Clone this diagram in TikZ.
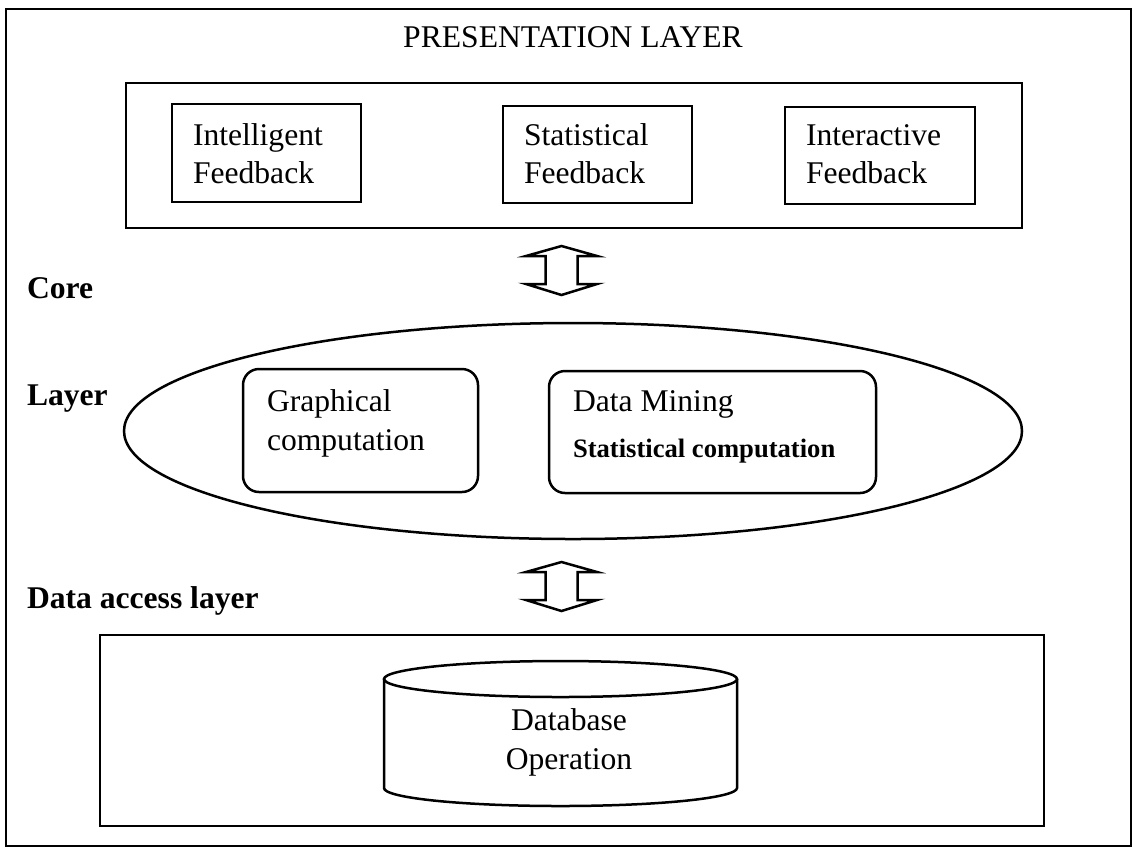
\documentclass[tikz,border=0pt]{standalone}
\usepackage{fontspec}
\setmainfont{Liberation Serif}
\usetikzlibrary{shapes.geometric}
\begin{document}
\begin{tikzpicture}[x=0.5pt,y=-0.5pt,
  every node/.style={inner sep=0pt, outer sep=0pt},
  boxline/.style={draw, line width=1.25pt},
  plainbox/.style={boxline, rectangle},
  roundbox/.style={boxline, rectangle, rounded corners=8pt},
  label/.style={font=\fontsize{15.8}{19}\selectfont},
  heading/.style={font=\fontsize{15.8}{19}\selectfont\bfseries},
  smallbold/.style={font=\fontsize{13.3}{16}\selectfont\bfseries},
  updown/.pic={
    \draw[line width=1.25pt, line join=miter]
      (0,-24.5) -- (35.5,-14.5) -- (16,-14.5) -- (16,13.5) -- (35.5,13.5)
      -- (0,24.5) -- (-35.5,13.5) -- (-16,13.5) -- (-16,-14.5)
      -- (-35.5,-14.5) -- cycle;
  }]
\useasboundingbox (0,0) rectangle (1133,848);

% outer frame
\node[plainbox, minimum width=562.5pt, minimum height=418.5pt] (outer) at (568.5,427.5) {};

% presentation layer
\node[label, anchor=base] (title) at (573,47) {PRESENTATION LAYER};
\node[plainbox, minimum width=448pt, minimum height=72.5pt] (pres) at (574,155.5) {};
\node[plainbox, minimum width=94.5pt, minimum height=49pt] (intel) at (266.5,153) {};
\node[plainbox, minimum width=94.5pt, minimum height=48.5pt] (stat) at (597.5,154.5) {};
\node[plainbox, minimum width=95pt, minimum height=48.5pt] (inter) at (880,155.5) {};
\node[label, anchor=base west] (intelA) at (193,145) {Intelligent};
\node[label, anchor=base west] (intelB) at (193,183) {Feedback};
\node[label, anchor=base west] (statA) at (524,145) {Statistical};
\node[label, anchor=base west] (statB) at (524,183) {Feedback};
\node[label, anchor=base west] (interA) at (806,145) {Interactive};
\node[label, anchor=base west] (interB) at (806,183) {Feedback};

% arrow between presentation and core layer
\coordinate (arrA) at (561.5,270.5);
\pic at (arrA) {updown};

% core layer
\node[heading, anchor=base west] (coreA) at (27,298) {Core};
\node[heading, anchor=base west] (coreB) at (27,405) {Layer};
\node[boxline, ellipse, minimum width=449pt, minimum height=108pt] (core) at (573,431) {};
\node[roundbox, minimum width=117.5pt, minimum height=61.5pt] (graph) at (360.5,430.5) {};
\node[roundbox, minimum width=163.5pt, minimum height=61pt] (mining) at (712.5,432) {};
\node[label, anchor=base west] (graphA) at (267,411) {Graphical};
\node[label, anchor=base west] (graphB) at (267,450) {computation};
\node[label, anchor=base west] (miningA) at (573,411) {Data Mining};
\node[smallbold, anchor=base west] (miningB) at (573,457) {Statistical computation};

% arrow between core and data access layer
\coordinate (arrB) at (561.5,586.5);
\pic at (arrB) {updown};

% data access layer
\node[heading, anchor=base west] (dal) at (27,608) {Data access layer};
\node[plainbox, minimum width=472pt, minimum height=95.5pt] (data) at (572,730.5) {};
\draw[line width=1.25pt] (384,679) -- (384,788)
  arc[start angle=180, end angle=360, x radius=88.25pt, y radius=9pt] -- (737,679);
\draw[line width=1.25pt] (560.5,679) ellipse[x radius=88.25pt, y radius=9pt];
\node[label, anchor=base] (dbA) at (569,730) {Database};
\node[label, anchor=base] (dbB) at (569,769) {Operation};
\end{tikzpicture}
\end{document}
